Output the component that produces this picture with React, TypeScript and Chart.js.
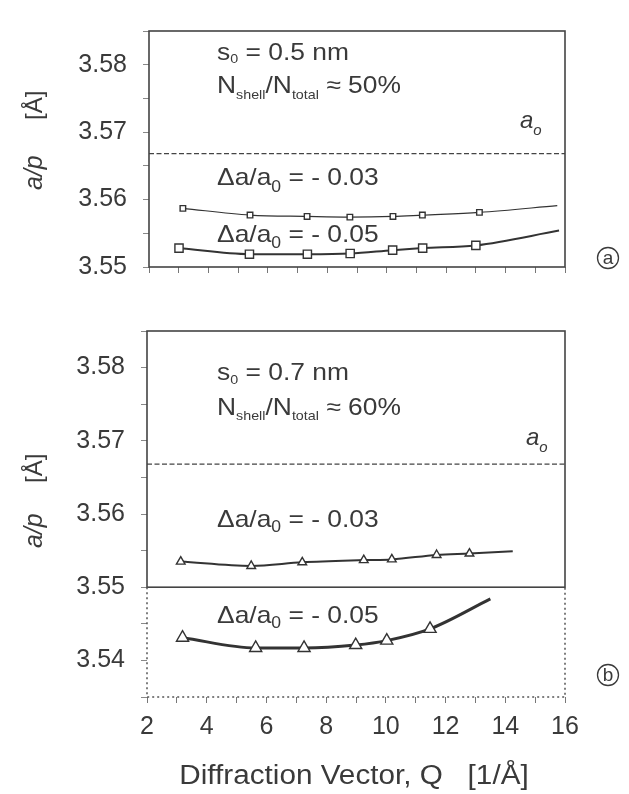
import React, { useEffect, useRef } from 'react';
import { Chart, registerables } from 'chart.js';
Chart.register(...registerables);

// ---------- data ----------
const X_MIN = 2;
const X_MAX = 16;
const X_LABELS = [2, 4, 6, 8, 10, 12, 14, 16];
const A0 = 3.5668;

// Panel (a): s0 = 0.5 nm  (last point = end of fitted curve, no marker)
const A_Q_003 = [3.14, 5.4, 7.32, 8.76, 10.21, 11.2, 13.12, 15.74];
const A_Y_003 = [3.5587, 3.5577, 3.5575, 3.5574, 3.5575, 3.5577, 3.5581, 3.5591];
const A_Q_005 = [3.01, 5.38, 7.33, 8.77, 10.2, 11.21, 13.0, 15.8];
const A_Y_005 = [3.5528, 3.5519, 3.5519, 3.552, 3.5525, 3.5528, 3.5532, 3.5554];
const A_Y_LABELS = [3.55, 3.56, 3.57, 3.58];

// Panel (b): s0 = 0.7 nm
const B_Q_003 = [3.13, 5.49, 7.2, 9.26, 10.2, 11.7, 12.8, 14.25];
const B_Y_003 = [3.5535, 3.5529, 3.5534, 3.5537, 3.5538, 3.5544, 3.5546, 3.5549];
const B_Q_005 = [3.19, 5.64, 7.26, 8.99, 10.03, 11.48, 13.5];
const B_Y_005 = [3.5431, 3.5417, 3.5417, 3.5421, 3.5427, 3.5443, 3.5484];
const B_Y_LABELS = [3.54, 3.55, 3.56, 3.57, 3.58];

// ---------- helpers ----------
const FAMILY = '"Liberation Sans", Arial, Helvetica, sans-serif';
const INK = '#3a3a3a';
const LINE = '#333333';

type Run = { t: string; size: number; dy?: number; italic?: boolean };

function drawRuns(ctx: CanvasRenderingContext2D, x: number, y: number, runs: Run[], hs = 1.1) {
  ctx.save();
  ctx.translate(x, y);
  ctx.scale(hs, 1);
  ctx.fillStyle = INK;
  ctx.textBaseline = 'alphabetic';
  ctx.textAlign = 'left';
  let cx = 0;
  for (const r of runs) {
    ctx.font = `${r.italic ? 'italic ' : ''}${r.size}px ${FAMILY}`;
    ctx.fillText(r.t, cx, r.dy || 0);
    cx += ctx.measureText(r.t).width;
  }
  ctx.restore();
}

function drawYTitle(ctx: CanvasRenderingContext2D, bx: number, yStartItalic: number, yStartUnit: number) {
  ctx.save();
  ctx.fillStyle = INK;
  ctx.textBaseline = 'alphabetic';
  ctx.textAlign = 'left';
  ctx.translate(bx, yStartItalic);
  ctx.rotate(-Math.PI / 2);
  ctx.font = `italic 25px ${FAMILY}`;
  ctx.fillText('a/p', 0, 0);
  ctx.font = `24px ${FAMILY}`;
  ctx.fillText('[Å]', yStartItalic - yStartUnit, 0);
  ctx.restore();
}

function drawCircled(ctx: CanvasRenderingContext2D, cx: number, cy: number, letter: string) {
  ctx.save();
  ctx.strokeStyle = INK;
  ctx.lineWidth = 1.3;
  ctx.beginPath();
  ctx.arc(cx, cy, 10.5, 0, Math.PI * 2);
  ctx.stroke();
  ctx.fillStyle = INK;
  ctx.font = `19px ${FAMILY}`;
  ctx.textAlign = 'center';
  ctx.textBaseline = 'middle';
  ctx.fillText(letter, cx, cy + 0.5);
  ctx.restore();
}

function isOnList(v: number, list: number[]) {
  return list.some((l) => Math.abs(l - v) < 1e-6);
}

function curve(qs: number[], ys: number[], style: string, r: number, lw: number) {
  const last = qs.length - 1;
  return {
    data: qs.map((q, i) => ({ x: q, y: ys[i] })),
    borderColor: LINE,
    borderWidth: lw,
    pointStyle: style,
    pointRadius: (c: any) => (c.dataIndex === last ? 0 : r),
    pointBackgroundColor: '#ffffff',
    pointBorderColor: LINE,
    pointBorderWidth: 1.4,
    cubicInterpolationMode: 'monotone',
    fill: false,
  };
}

function refLine() {
  return {
    data: [
      { x: X_MIN, y: A0 },
      { x: X_MAX, y: A0 },
    ],
    borderColor: '#444',
    borderWidth: 1.3,
    borderDash: [5, 2.5],
    pointRadius: 0,
    fill: false,
  };
}

function makeOptions(yMin: number, yMax: number, yLabels: number[], yWidth: number, xHeight: number, top: number, showX: boolean) {
  return {
    responsive: false,
    animation: false,
    devicePixelRatio: 1,
    layout: { padding: { top, right: 64, left: 0, bottom: 0 } },
    plugins: { legend: { display: false }, tooltip: { enabled: false } },
    scales: {
      x: {
        type: 'linear',
        min: X_MIN,
        max: X_MAX,
        ticks: {
          stepSize: 1,
          autoSkip: false,
          maxRotation: 0,
          padding: 9,
          color: INK,
          font: { size: 25, family: FAMILY },
          callback: (v: any) => (showX && isOnList(Number(v), X_LABELS) ? String(v) : ''),
        },
        grid: { drawOnChartArea: false, tickLength: 6, color: '#777', lineWidth: 1 },
        border: { display: false },
        afterFit: (s: any) => {
          s.height = xHeight;
        },
      },
      y: {
        type: 'linear',
        min: yMin,
        max: yMax,
        ticks: {
          stepSize: 0.005,
          autoSkip: false,
          padding: 16,
          color: INK,
          font: { size: 25, family: FAMILY },
          callback: (v: any) => (isOnList(Number(v), yLabels) ? Number(v).toFixed(2) : ''),
        },
        grid: { drawOnChartArea: false, tickLength: 6, color: '#888', lineWidth: 1 },
        border: { display: false },
        afterFit: (s: any) => {
          s.width = yWidth;
        },
      },
    },
  };
}

// ---------- plugins ----------
const decoA = {
  id: 'decoA',
  afterDatasetsDraw(chart: any) {
    const ctx: CanvasRenderingContext2D = chart.ctx;
    const a = chart.chartArea;
    ctx.save();
    ctx.strokeStyle = '#444';
    ctx.lineWidth = 1.6;
    ctx.strokeRect(a.left, a.top, a.right - a.left, a.bottom - a.top);
    ctx.restore();

    drawRuns(ctx, 217, 59.5, [
      { t: 's', size: 24 },
      { t: '0', size: 13, dy: 3.5 },
      { t: ' = 0.5 nm', size: 24 },
    ]);
    drawRuns(ctx, 217, 93, [
      { t: 'N', size: 24 },
      { t: 'shell', size: 13, dy: 6 },
      { t: '/N', size: 24 },
      { t: 'total', size: 13, dy: 6 },
      { t: ' ≈ 50%', size: 24 },
    ]);
    drawRuns(ctx, 217, 185, [
      { t: 'Δa/a', size: 24 },
      { t: '0', size: 16, dy: 6.5 },
      { t: ' = - 0.03', size: 24 },
    ]);
    drawRuns(ctx, 217, 241.7, [
      { t: 'Δa/a', size: 24 },
      { t: '0', size: 16, dy: 6.5 },
      { t: ' = - 0.05', size: 24 },
    ]);
    drawRuns(ctx, 520, 128, [
      { t: 'a', size: 24, italic: true },
      { t: 'o', size: 15, italic: true, dy: 7 },
    ], 1.0);
    drawCircled(ctx, 608, 258, 'a');
    drawYTitle(ctx, 42, 190, 120);
  },
};

const decoB = {
  id: 'decoB',
  afterDatasetsDraw(chart: any) {
    const ctx: CanvasRenderingContext2D = chart.ctx;
    const a = chart.chartArea;
    const y55 = chart.scales.y.getPixelForValue(3.55);
    ctx.save();
    ctx.strokeStyle = '#444';
    ctx.lineWidth = 1.6;
    ctx.strokeRect(a.left, a.top, a.right - a.left, y55 - a.top);
    ctx.setLineDash([2, 3]);
    ctx.lineWidth = 1.5;
    ctx.strokeStyle = '#555';
    ctx.beginPath();
    ctx.moveTo(a.left, y55);
    ctx.lineTo(a.left, a.bottom);
    ctx.lineTo(a.right, a.bottom);
    ctx.lineTo(a.right, y55);
    ctx.stroke();
    ctx.restore();

    drawRuns(ctx, 217, 80, [
      { t: 's', size: 24 },
      { t: '0', size: 13, dy: 4 },
      { t: ' = 0.7 nm', size: 24 },
    ]);
    drawRuns(ctx, 217, 115, [
      { t: 'N', size: 24 },
      { t: 'shell', size: 13, dy: 4.5 },
      { t: '/N', size: 24 },
      { t: 'total', size: 13, dy: 4.5 },
      { t: ' ≈ 60%', size: 24 },
    ]);
    drawRuns(ctx, 217, 227, [
      { t: 'Δa/a', size: 24 },
      { t: '0', size: 16, dy: 5 },
      { t: ' = - 0.03', size: 24 },
    ]);
    drawRuns(ctx, 217, 322.7, [
      { t: 'Δa/a', size: 24 },
      { t: '0', size: 16, dy: 5.5 },
      { t: ' = - 0.05', size: 24 },
    ]);
    drawRuns(ctx, 526, 145, [
      { t: 'a', size: 24, italic: true },
      { t: 'o', size: 15, italic: true, dy: 7 },
    ], 1.0);
    drawCircled(ctx, 608, 375, 'b');
    drawYTitle(ctx, 42, 248, 183);

    // x-axis title
    ctx.save();
    ctx.fillStyle = INK;
    ctx.textAlign = 'center';
    ctx.textBaseline = 'alphabetic';
    ctx.translate(354, 484);
    ctx.scale(1.1, 1);
    ctx.font = `27px ${FAMILY}`;
    ctx.fillText('Diffraction Vector, Q   [1/Å]', 0, 0);
    ctx.restore();
  },
};

export default function App() {
  const refA = useRef<HTMLCanvasElement | null>(null);
  const refB = useRef<HTMLCanvasElement | null>(null);

  useEffect(() => {
    document.body.style.margin = '0';
    const chartA = new Chart(refA.current as HTMLCanvasElement, {
      type: 'line',
      data: {
        datasets: [
          refLine(),
          curve(A_Q_003, A_Y_003, 'rect', 3.9, 1.2),
          curve(A_Q_005, A_Y_005, 'rect', 5.8, 2),
        ] as any,
      },
      options: makeOptions(3.55, 3.585, A_Y_LABELS, 149, 33, 7, false) as any,
      plugins: [decoA],
    });
    const chartB = new Chart(refB.current as HTMLCanvasElement, {
      type: 'line',
      data: {
        datasets: [
          refLine(),
          curve(B_Q_003, B_Y_003, 'triangle', 5, 2),
          curve(B_Q_005, B_Y_005, 'triangle', 7, 3),
        ] as any,
      },
      options: makeOptions(3.535, 3.585, B_Y_LABELS, 147, 97, 24, true) as any,
      plugins: [decoB],
    });
    return () => {
      chartA.destroy();
      chartB.destroy();
    };
  }, []);

  return (
    <div style={{ position: 'absolute', left: 0, top: 0, width: 629, height: 794, background: '#fff' }}>
      <canvas ref={refA} width={629} height={300} style={{ position: 'absolute', left: 0, top: 0, width: 629, height: 300 }} />
      <canvas ref={refB} width={629} height={494} style={{ position: 'absolute', left: 0, top: 300, width: 629, height: 494 }} />
    </div>
  );
}
